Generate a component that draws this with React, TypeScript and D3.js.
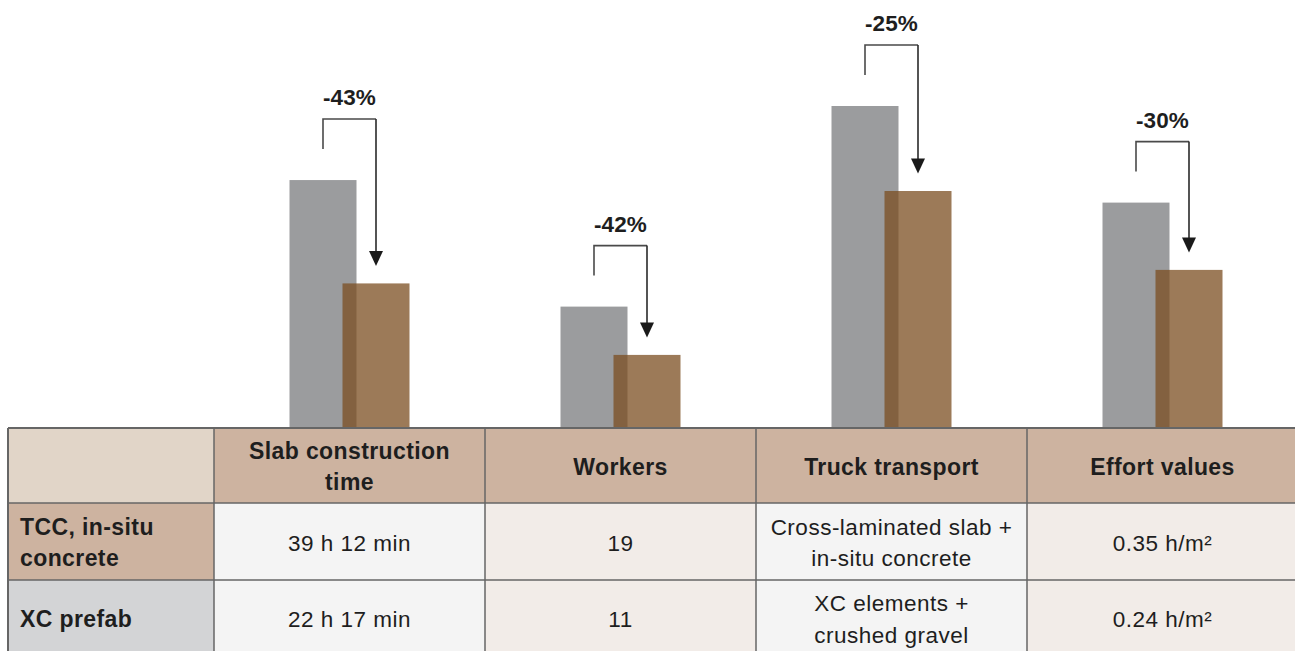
import React from "react";
import * as d3 from "d3";

const categories = ["Slab construction time", "Workers", "Truck transport", "Effort values"];
const headerLines = [["Slab construction", "time"], ["Workers"], ["Truck transport"], ["Effort values"]];
const tccValues = [77.0, 37.7, 100, 70.0];
const xcValues = [44.9, 22.7, 73.6, 49.1];
const reductionLabels = ["-43%", "-42%", "-25%", "-30%"];
const rowLabels = [["TCC, in-situ", "concrete"], ["XC prefab"]];
const tccCells = [["39 h 12 min"], ["19"], ["Cross-laminated slab +", "in-situ concrete"], ["0.35 h/m²"]];
const xcCells = [["22 h 17 min"], ["11"], ["XC elements +", "crushed gravel"], ["0.24 h/m²"]];

const W = 1295;
const H = 651;
const FONT = "'Liberation Sans', Arial, Helvetica, sans-serif";

export default function App() {
  React.useEffect(() => {
    document.body.style.margin = "0";
    document.body.style.overflow = "hidden";
  }, []);

  const tableLeft = 8;
  const firstColW = 206;
  const colStart = tableLeft + firstColW;
  const x = d3.scaleBand<string>().domain(categories).range([colStart, colStart + 4 * 271]).padding(0);
  const y = d3.scaleLinear().domain([0, 100]).range([428, 106]);
  const barW = 67;
  const grayOff = -60;
  const brownOff = -7;

  const rowTops = [428, 503, 580, 656];
  const lineH = 31.5;

  const gray = "#9b9c9e";
  const brown = "rgb(123,78,32)";
  const border = "#666666";
  const textCol = "#1e1e1e";

  const headerBg = "#cdb3a0";
  const cornerBg = "#e1d5c8";
  const tccLabelBg = "#cdb3a0";
  const xcLabelBg = "#d3d4d6";
  const bodyBgs = ["#f4f4f4", "#f2ece8", "#f4f4f4", "#f2ece8"];

  const renderLines = (lines: string[], cx: number, rowIdx: number, anchor: string, bold: boolean) => {
    const cy = (rowTops[rowIdx] + rowTops[rowIdx + 1]) / 2;
    const n = lines.length;
    return lines.map((l, i) => (
      <text
        key={i}
        x={cx}
        y={cy + 9 + (i - (n - 1) / 2) * lineH}
        textAnchor={anchor as any}
        fontFamily={FONT}
        fontSize={bold ? 23 : 22.5}
        fontWeight={bold ? 700 : 400}
        letterSpacing={bold ? 0.4 : 0.5}
        fill={textCol}
      >
        {l}
      </text>
    ));
  };

  return (
    <svg width={W} height={H} style={{ position: "absolute", left: 0, top: 0, background: "#fff" }}>
      {/* bars */}
      {categories.map((c, i) => {
        const cx = (x(c) as number) + x.bandwidth() / 2;
        return (
          <g key={c}>
            <rect x={cx + grayOff} y={y(tccValues[i])} width={barW} height={y(0) - y(tccValues[i])} fill={gray} />
            <rect
              x={cx + brownOff}
              y={y(xcValues[i])}
              width={barW}
              height={y(0) - y(xcValues[i])}
              fill={brown}
              fillOpacity={0.75}
            />
          </g>
        );
      })}

      {/* arrows */}
      {categories.map((c, i) => {
        const cx = (x(c) as number) + x.bandwidth() / 2;
        const lx = cx + grayOff + barW / 2;
        const rx = cx + brownOff + barW / 2;
        const gTop = y(tccValues[i]);
        const bTop = y(xcValues[i]);
        const topY = gTop - 61;
        const leftBottom = gTop - 31;
        const tip = bTop - 17.5;
        const headH = 15;
        const headW = 14;
        return (
          <g key={"a" + c}>
            <path d={`M${lx},${leftBottom}V${topY}H${rx}`} fill="none" stroke="#4a4a4a" strokeWidth={1.6} />
            <path d={`M${rx},${topY}V${tip - headH + 1}`} fill="none" stroke="#2a2a2a" strokeWidth={1.6} />
            <path d={`M${rx - headW / 2},${tip - headH}L${rx + headW / 2},${tip - headH}L${rx},${tip}Z`} fill="#1a1a1a" />
            <text
              x={(lx + rx) / 2}
              y={topY - 13.7}
              textAnchor="middle"
              fontFamily={FONT}
              fontSize={22.5}
              fontWeight={700}
              letterSpacing={0.1}
              fill={textCol}
            >
              {reductionLabels[i]}
            </text>
          </g>
        );
      })}

      {/* table backgrounds */}
      <rect x={tableLeft} y={rowTops[0]} width={firstColW} height={rowTops[1] - rowTops[0]} fill={cornerBg} />
      <rect x={tableLeft} y={rowTops[1]} width={firstColW} height={rowTops[2] - rowTops[1]} fill={tccLabelBg} />
      <rect x={tableLeft} y={rowTops[2]} width={firstColW} height={rowTops[3] - rowTops[2]} fill={xcLabelBg} />
      {categories.map((c, i) => (
        <g key={"bg" + c}>
          <rect x={x(c)} y={rowTops[0]} width={x.bandwidth()} height={rowTops[1] - rowTops[0]} fill={headerBg} />
          <rect x={x(c)} y={rowTops[1]} width={x.bandwidth()} height={rowTops[3] - rowTops[1]} fill={bodyBgs[i]} />
        </g>
      ))}

      {/* grid lines */}
      {rowTops.map((ry, i) => (
        <line key={"h" + i} x1={tableLeft} x2={W + 10} y1={ry} y2={ry} stroke={border} strokeWidth={i === 0 ? 2 : 1.5} />
      ))}
      <line x1={tableLeft} x2={tableLeft} y1={rowTops[0]} y2={H + 10} stroke={border} strokeWidth={2} />
      {categories.map((c) => (
        <line key={"v" + c} x1={x(c)} x2={x(c)} y1={rowTops[0]} y2={H + 10} stroke={border} strokeWidth={1.5} />
      ))}

      {/* header text */}
      {categories.map((c, i) => (
        <g key={"ht" + c}>{renderLines(headerLines[i], (x(c) as number) + x.bandwidth() / 2, 0, "middle", true)}</g>
      ))}
      {/* row labels */}
      <g>{renderLines(rowLabels[0], tableLeft + 12, 1, "start", true)}</g>
      <g>{renderLines(rowLabels[1], tableLeft + 12, 2, "start", true)}</g>
      {/* body */}
      {categories.map((c, i) => (
        <g key={"r1" + c}>{renderLines(tccCells[i], (x(c) as number) + x.bandwidth() / 2, 1, "middle", false)}</g>
      ))}
      {categories.map((c, i) => (
        <g key={"r2" + c}>{renderLines(xcCells[i], (x(c) as number) + x.bandwidth() / 2, 2, "middle", false)}</g>
      ))}
    </svg>
  );
}
